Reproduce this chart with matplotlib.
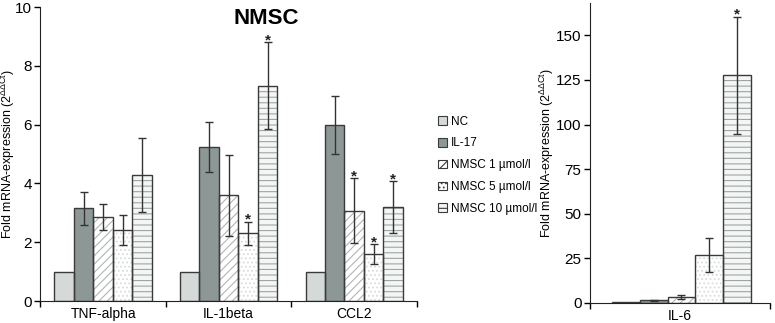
import numpy as np
import matplotlib
matplotlib.use("Agg")
import matplotlib.pyplot as plt

plt.rcParams['font.family'] = ['Liberation Sans', 'DejaVu Sans']
plt.rcParams['mathtext.fontset'] = 'custom'
plt.rcParams['mathtext.rm'] = 'Liberation Sans'
plt.rcParams['mathtext.it'] = 'Liberation Sans'
plt.rcParams['hatch.linewidth'] = 0.8

# Daten
genes = ['TNF-alpha', 'IL-1beta', 'CCL2']
groups = ['NC', 'IL-17', 'NMSC 1 µmol/l', 'NMSC 5 µmol/l', 'NMSC 10 µmol/l']
nc = [1.0, 1.0, 1.0]
il17 = [3.15, 5.25, 5.98]
nmsc1 = [2.85, 3.6, 3.07]
nmsc5 = [2.42, 2.3, 1.6]
nmsc10 = [4.28, 7.33, 3.2]
il17_err = [0.55, 0.85, 0.98]
nmsc1_err = [0.45, 1.38, 1.1]
nmsc5_err = [0.5, 0.4, 0.33]
nmsc10_err = [1.25, 1.48, 0.87]
stars = [[], [3, 4], [2, 3, 4]]

il6 = [0.8, 1.5, 3.2, 27.0, 127.5]
il6_err = [0.0, 0.4, 1.1, 9.5, 33.0]
il6_stars = [4]

# Stil der Balken
faces = ['#d5dad9', '#8d9896', '#ffffff', '#ffffff', '#f4f6f6']
hatches = [None, None, '////', '....', '---']
hcolors = ['#333333', '#333333', '#b0b5b4', '#d8dcdb', '#9fa5a4']
edge = '#3a3a3a'
width = 0.155
ylab = r'Fold mRNA-expression (2$^{\Delta\Delta Ct}$)'

fig = plt.figure(figsize=(7.75, 3.23), dpi=100)
ax = fig.add_axes([0.052, 0.068, 0.486, 0.91])
ax2 = fig.add_axes([0.761, 0.062, 0.232, 0.928])


def bars(axis, x, vals, i):
    b = axis.bar(x, vals, width, color=faces[i], edgecolor=hcolors[i], hatch=hatches[i],
                 linewidth=0, label=groups[i], zorder=2)
    axis.bar(x, vals, width, facecolor='none', edgecolor=edge, linewidth=1.0, zorder=3)
    return b


def star(axis, x, y):
    axis.annotate('*', (x, y), xytext=(0, -1.5), textcoords='offset points',
                  ha='center', va='baseline', fontsize=11, fontweight='bold', color='#222222')


def style(axis, labx):
    axis.tick_params(axis='x', which='major', length=0, pad=4, labelsize=10)
    axis.tick_params(axis='x', which='minor', length=4, direction='out', width=1.0)
    axis.tick_params(axis='y', labelsize=11, length=4, width=1.0, pad=2)
    axis.spines['top'].set_visible(False)
    axis.spines['right'].set_visible(False)
    axis.spines['left'].set_color('#222222')
    axis.spines['bottom'].set_color('#222222')
    axis.set_ylabel(ylab, fontsize=9)
    axis.yaxis.set_label_coords(labx, 0.5)
    axis.set_facecolor('none')


x = np.arange(len(genes))
series = [nc, il17, nmsc1, nmsc5, nmsc10]
errs = [None, il17_err, nmsc1_err, nmsc5_err, nmsc10_err]
handles = []
for i, vals in enumerate(series):
    xi = x + (i - 2) * width
    handles.append(bars(ax, xi, vals, i))
    if errs[i] is not None:
        ax.errorbar(xi, vals, yerr=errs[i], fmt='none', ecolor='#333333',
                    elinewidth=1.0, capsize=3, capthick=1.0, zorder=4)

for g, lst in enumerate(stars):
    for i in lst:
        star(ax, x[g] + (i - 2) * width, series[i][g] + errs[i][g])

ax.set_xlim(-0.5, 2.5)
ax.set_ylim(0, 10)
ax.set_yticks([0, 2, 4, 6, 8, 10])
ax.set_xticks(x)
ax.set_xticklabels(genes)
ax.set_xticks([-0.5, 0.5, 1.5, 2.5], minor=True)
style(ax, -0.062)

fig.text(0.343, 0.944, 'NMSC', ha='center', va='center', fontsize=16, fontweight='bold')

# IL-6
x6 = (np.arange(5) - 2) * width + 0.01
for i in range(5):
    bars(ax2, x6[i], il6[i], i)
ax2.errorbar(x6[1:], il6[1:], yerr=il6_err[1:], fmt='none', ecolor='#333333',
             elinewidth=1.0, capsize=3, capthick=1.0, zorder=4)
for i in il6_stars:
    star(ax2, x6[i], il6[i] + il6_err[i])
ax2.set_xlim(-0.5, 0.5)
ax2.set_ylim(0, 168)
ax2.set_yticks([0, 25, 50, 75, 100, 125, 150])
ax2.set_xticks([0])
ax2.set_xticklabels(['IL-6'])
ax2.set_xticks([-0.5, 0.5], minor=True)
style(ax2, -0.19)

leg = fig.legend(handles=handles, loc='upper left', bbox_to_anchor=(0.551, 0.675),
                 frameon=False, fontsize=8.5, handlelength=0.75, handleheight=0.75,
                 handletextpad=0.35, labelspacing=0.83)
for p in leg.get_patches():
    p.set_edgecolor(edge)
    p.set_linewidth(0.8)

fig.savefig('out.png', dpi=100)
